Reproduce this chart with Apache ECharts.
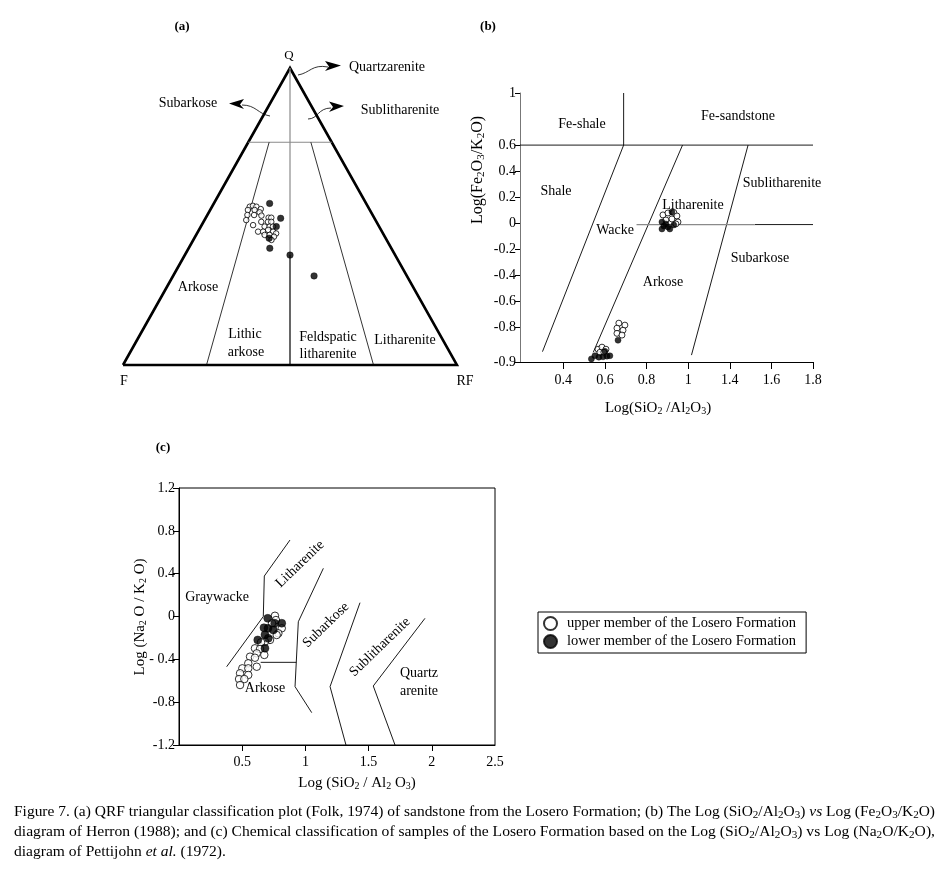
<!DOCTYPE html>
<html><head><meta charset="utf-8">
<script src="https://cdn.jsdelivr.net/npm/echarts@6/dist/echarts.min.js"></script>
<style>html,body{margin:0;padding:0;background:#fff}#c{width:946px;height:872px}</style>
</head><body><div id="c"></div>
<script>
const FONT = 'Liberation Serif';
const LEG_UP = 'upper member of the Losero Formation';
const LEG_LO = 'lower member of the Losero Formation';

// ---------- (a) QRF ternary, points as [Q, F, RF] (%) ----------
const aUpper = [
  [53.3,35.4,11.3],[53.6,34.3,12.1],[53.3,33.4,13.3],[52.5,32.5,15.0],[52.2,36.5,11.3],
  [52.2,34.5,13.3],[51.4,33.4,15.2],[50.5,37.5,12.0],[50.5,35.5,14.0],[50.3,33.4,16.3],
  [49.6,31.6,18.8],[49.6,30.8,19.6],[48.8,38.7,12.5],[47.1,37.5,15.4],[48.2,34.5,17.3],
  [48.2,32.5,19.3],[48.2,31.5,20.3],[46.6,34.3,19.1],[46.6,32.8,20.6],[46.6,31.8,21.6],
  [44.9,37.1,18.0],[44.9,35.6,19.5],[45.5,33.8,20.7],[44.9,32.6,22.5],[44.3,32.0,23.7],
  [43.8,35.7,20.5],[43.8,34.2,22.0],[43.2,33.2,23.6],[42.1,34.5,23.4]
];
const aLower = [
  [54.4,28.9,16.7],[49.4,28.1,22.5],[46.6,30.8,22.6],[42.7,34.9,22.4],
  [39.3,36.4,24.3],[37.0,31.5,31.5],[30.0,27.8,42.2]
];
// Folk (1974) field boundaries, [Q, F, RF]
const aFrame = [[0,100,0],[0,0,100],[100,0,0],[0,100,0]];
const aQ75 = [[75,25,0],[75,0,25]];
const aF3R1 = [[75,18.75,6.25],[0,75,25]];
const aF1R3 = [[75,6.25,18.75],[0,25,75]];
const aMidUpper = [[100,0,0],[37,31.5,31.5]];
const aMidLower = [[37,31.5,31.5],[0,50,50]];

// ---------- (b) Herron (1988): [log(SiO2/Al2O3), log(Fe2O3/K2O)] ----------
const bXTicks = [0.4,0.6,0.8,1,1.4,1.6,1.8];
const bYTicks = [-0.9,-0.8,-0.6,-0.4,-0.2,0,0.2,0.4,0.6,1];
const bUpper = [
  [0.879,0.064],[0.903,0.079],[0.931,0.083],[0.946,0.056],[0.922,0.033],[0.951,0.010],
  [0.893,0.025],[0.941,-0.005],
  [0.667,-0.767],[0.696,-0.782],[0.658,-0.802],[0.687,-0.808],[0.658,-0.817],[0.682,-0.822],
  [0.567,-0.863],[0.586,-0.857],[0.605,-0.863],[0.576,-0.872],[0.595,-0.872]
];
const bLower = [
  [0.922,0.087],[0.874,0.010],[0.883,-0.021],[0.903,-0.028],[0.874,-0.044],[0.912,-0.044],
  [0.931,-0.013],[0.893,-0.005],
  [0.663,-0.837],
  [0.535,-0.891],[0.552,-0.882],[0.571,-0.886],[0.591,-0.885],[0.610,-0.883],[0.624,-0.882],[0.600,-0.869]
];
const bBlackBounds = [
  [[0.69,1],[0.69,0.6]],
  [[0.192,0.6],[1.8,0.6]],
  [[0.69,0.6],[0.30,-0.87]],
  [[0.973,0.6],[0.544,-0.872]],
  [[1.488,0.6],[1.032,-0.88]],
  [[1.52,-0.01],[1.8,-0.01]]
];
const bGreyBounds = [
  [[0.752,-0.01],[1.52,-0.01]]
];

// ---------- (c) Pettijohn et al. (1972): [log(SiO2/Al2O3), log(Na2O/K2O)] ----------
const cXTicks = [0.5,1,1.5,2];
const cXLabels = [0.5,1,1.5,2,2.5];
const cYTicks = [1.2,0.8,0.4,0,-0.4,-0.8,-1.2];
const cYLabels = ['1.2','0.8','0.4','0','- 0.4','-0.8','-1.2'];
const cUpper = [
  [0.759,0.007],[0.767,-0.033],[0.736,-0.063],[0.813,-0.110],[0.786,-0.157],[0.773,-0.173],
  [0.720,-0.219],[0.680,-0.235],[0.649,-0.241],[0.601,-0.297],[0.641,-0.303],[0.615,-0.344],
  [0.675,-0.359],[0.562,-0.375],[0.601,-0.385],[0.548,-0.437],[0.615,-0.469],[0.501,-0.484],
  [0.548,-0.484],[0.483,-0.530],[0.548,-0.546],[0.475,-0.584],[0.517,-0.584],[0.483,-0.640]
];
const cLower = [
  [0.702,-0.017],[0.672,-0.105],[0.704,-0.110],[0.757,-0.063],[0.813,-0.063],[0.746,-0.126],
  [0.680,-0.170],[0.623,-0.219],[0.706,-0.204],[0.680,-0.297]
];
const cBounds = [
  [[0.878,0.714],[0.675,0.378],[0.667,0],[0.377,-0.469]],
  [[0.646,-0.428],[0.928,-0.428]],
  [[1.142,0.45],[0.944,-0.049],[0.918,-0.655],[1.05,-0.898]],
  [[1.432,0.129],[1.195,-0.655],[1.321,-1.2]],
  [[1.946,-0.017],[1.537,-0.649],[1.709,-1.2]]
];

// ---------- scales ----------
function tern(p){ const s=p[0]+p[1]+p[2]; return [(p[2]+p[0]/2)/s*100, p[0]/s*100]; }
// panel (b) axes are drawn with evenly spaced (irregular) tick labels: map labelled value -> axis position
function bx(v){
  const t=bXTicks;
  if(v<=t[0]) return (v-t[0])/(t[1]-t[0]);
  for(let i=0;i<t.length-1;i++){ if(v<=t[i+1]) return i+(v-t[i])/(t[i+1]-t[i]); }
  return t.length-1+(v-t[t.length-1])/(t[t.length-1]-t[t.length-2]);
}
const bYLowStretch = 2.65; // the -0.8 .. -0.9 interval is drawn wider
function by(v){ return v>=-0.8 ? v : -0.8+(v+0.8)*bYLowStretch; }
function near(a,b){ return Math.abs(a-b)<1e-6; }

const axisLabelStyle = {color:'#000', fontFamily:FONT, fontSize:14};

function lineS(data, xi, color, width){
  return {type:'line', xAxisIndex:xi, yAxisIndex:xi, data, symbol:'none', silent:true,
    lineStyle:{color, width, join:'miter'}, z:2, clip:false};
}
function scatS(name, data, xi, open, size){
  return {type:'scatter', name, xAxisIndex:xi, yAxisIndex:xi, data, symbol:'circle', symbolSize:size,
    itemStyle: open ? {color:'#fff', borderColor:'#000', borderWidth:1} : {color:'#000', borderColor:'#000', borderWidth:0.5},
    z:5, clip:false};
}

const series = [];
// (a)
series.push(lineS(aFrame.map(tern),0,'#000',2.6));
series.push(lineS(aQ75.map(tern),0,'#8a8a8a',1.2));
series.push(lineS(aF3R1.map(tern),0,'#000',0.8));
series.push(lineS(aF1R3.map(tern),0,'#000',0.8));
series.push(lineS(aMidUpper.map(tern),0,'#8a8a8a',1.2));
series.push(lineS(aMidLower.map(tern),0,'#000',1.2));
series.push(scatS(LEG_UP, aUpper.map(tern),0,true,5.5));
series.push(scatS(LEG_LO, aLower.map(tern),0,false,6.5));
// (b)
bBlackBounds.forEach(l=>series.push(lineS(l.map(p=>[bx(p[0]),by(p[1])]),1,'#000',0.9)));
bGreyBounds.forEach(l=>series.push(lineS(l.map(p=>[bx(p[0]),by(p[1])]),1,'#8a8a8a',1.2)));
series.push(scatS(LEG_UP, bUpper.map(p=>[bx(p[0]),by(p[1])]),1,true,6));
series.push(scatS(LEG_LO, bLower.map(p=>[bx(p[0]),by(p[1])]),1,false,6));
// (c)
cBounds.forEach(l=>series.push(lineS(l,2,'#000',0.9)));
series.push(scatS(LEG_UP, cUpper,2,true,7.5));
series.push(scatS(LEG_LO, cLower,2,false,8));

// ---------- text ----------
function mkRich(fs){
  const sub = Math.round(fs*0.68);
  return {
    s:{fontFamily:FONT, fontSize:sub, verticalAlign:'bottom', lineHeight:Math.round(fs*0.36)},
    i:{fontFamily:FONT, fontSize:fs, fontStyle:'italic'}
  };
}
function T(text,x,y,o){
  o=o||{};
  const fs=o.fs||14;
  return {type:'text', x, y, rotation:o.rot||0, scaleX:o.sx||1, silent:true, z:10,
    style:{text, fill:'#000', fontFamily:FONT, fontSize:fs, fontWeight:o.fw||'normal',
      align:o.align||'center', verticalAlign:'middle', textAlign:o.align||'center', textVerticalAlign:'middle',
      lineHeight:fs+2, rich:mkRich(fs)}};
}
const D = Math.PI/180;
const texts = [
  // (a)
  T('(a)',182,27,{fw:'bold',fs:13}), T('Q',289,56,{fs:13}),
  T('Quartzarenite',387,67), T('Subarkose',188,103), T('Sublitharenite',400,110),
  T('Arkose',198,287), T('Lithic',245,334), T('arkose',246,352),
  T('Feldspatic',328,337), T('litharenite',328,354), T('Litharenite',405,340),
  T('F',124,381), T('RF',465,381),
  // (b)
  T('(b)',488,27,{fw:'bold',fs:13}),
  T('Fe-shale',582,124), T('Fe-sandstone',738,116), T('Shale',556,191), T('Wacke',615,230),
  T('Litharenite',693,205), T('Sublitharenite',782,183), T('Arkose',663,282), T('Subarkose',760,258),
  T('Log(SiO{s|2} /Al{s|2}O{s|3})',658,408,{fs:15}),
  T('Log(Fe{s|2}O{s|3}/K{s|2}O)',478,170,{rot:90*D,fs:16}),
  // (c)
  T('(c)',163,448,{fw:'bold',fs:13}),
  T('Graywacke',217,597), T('Litharenite',300,564,{rot:44*D}), T('Subarkose',326,625,{rot:44*D}),
  T('Sublitharenite',380,647,{rot:44*D}), T('Quartz',419,673), T('arenite',419,691), T('Arkose',265,688),
  T('Log (SiO{s|2} / Al{s|2} O{s|3})',357,783,{fs:15}),
  T('Log (Na{s|2} O / K{s|2} O)',140,617,{rot:90*D,fs:15})
];

// caption (stretched to the justified width of the original)
const capLines = [
  'Figure 7. (a) QRF triangular classification plot (Folk, 1974) of sandstone from the Losero Formation; (b) The Log (SiO{s|2}/Al{s|2}O{s|3}) {i|vs} Log (Fe{s|2}O{s|3}/K{s|2}O)',
  'diagram of Herron (1988); and (c) Chemical classification of samples of the Losero Formation based on the Log (SiO{s|2}/Al{s|2}O{s|3}) vs Log (Na{s|2}O/K{s|2}O),',
  'diagram of Pettijohn {i|et al.} (1972).'
];
const CAP_FS = 14;
function richWidth(str){
  const c=document.createElement('canvas').getContext('2d');
  const meas=(t,sz,it)=>{c.font=(it?'italic ':'')+sz+'px "'+FONT+'"'; return c.measureText(t).width;};
  const sub=Math.round(CAP_FS*0.68);
  let w=0,last=0,m; const re=/\{(\w)\|([^}]*)\}/g;
  while((m=re.exec(str))){ w+=meas(str.slice(last,m.index),CAP_FS); w+= m[1]==='s'?meas(m[2],sub):meas(m[2],CAP_FS,true); last=re.lastIndex; }
  w+=meas(str.slice(last),CAP_FS); return w;
}
const capTarget = 921;
const sx1 = capTarget/richWidth(capLines[0]), sx2 = capTarget/richWidth(capLines[1]);
const sx3 = (sx1+sx2)/2;
texts.push(T(capLines[0],14,812,{align:'left',fs:CAP_FS,sx:sx1}));
texts.push(T(capLines[1],14,832,{align:'left',fs:CAP_FS,sx:sx2}));
texts.push(T(capLines[2],14,852,{align:'left',fs:CAP_FS,sx:sx3}));

// curved arrows in (a)
const arrowStroke = {stroke:'#000', lineWidth:0.8, fill:null};
const shapes = [
  {type:'bezierCurve', shape:{x1:298,y1:75,cpx1:310,cpy1:73,cpx2:312,cpy2:64,x2:328,y2:67}, style:arrowStroke, silent:true},
  {type:'polygon', shape:{points:[[341,65.5],[325,61],[329,66.5],[325,71]]}, style:{fill:'#000'}, silent:true},
  {type:'bezierCurve', shape:{x1:308,y1:119,cpx1:318,cpy1:119,cpx2:318,cpy2:108,x2:331,y2:108}, style:arrowStroke, silent:true},
  {type:'polygon', shape:{points:[[344,106],[329,101.5],[333,107],[329,112]]}, style:{fill:'#000'}, silent:true},
  {type:'bezierCurve', shape:{x1:270,y1:116,cpx1:258,cpy1:114,cpx2:256,cpy2:105,x2:242,y2:105}, style:arrowStroke, silent:true},
  {type:'polygon', shape:{points:[[229,103.5],[244,99],[240,104.5],[244,109]]}, style:{fill:'#000'}, silent:true}
];

const option = {
  animation:false,
  backgroundColor:'#fff',
  textStyle:{fontFamily:FONT},
  legend:{
    orient:'vertical', left:538, top:612, padding:[4,10,4,5], itemGap:3,
    itemWidth:13, itemHeight:13, icon:'circle',
    borderColor:'#000', borderWidth:1, selectedMode:false,
    textStyle:{fontFamily:FONT, fontSize:14.5, color:'#000', padding:[0,0,0,5]},
    data:[LEG_UP, LEG_LO]
  },
  grid:[
    {left:123, top:68, width:334, height:297},
    {left:520, top:93, width:293, height:269},
    {left:179, top:488, width:316, height:257, show:true, borderColor:'#000', borderWidth:1, backgroundColor:'transparent'}
  ],
  xAxis:[
    {gridIndex:0, type:'value', min:0, max:100, show:false},
    {gridIndex:1, type:'value', min:bx(0.192), max:bx(1.8),
      axisLine:{onZero:false, lineStyle:{color:'#000', width:1}},
      axisTick:{show:true, customValues:bXTicks.map(bx), length:7, lineStyle:{color:'#000'}},
      axisLabel:{...axisLabelStyle, margin:11, customValues:bXTicks.map(bx),
        formatter:v=>{const i=bXTicks.findIndex(t=>near(bx(t),v)); return i<0?'':String(bXTicks[i]);}},
      splitLine:{show:false}},
    {gridIndex:2, type:'value', min:0, max:2.5,
      axisLine:{onZero:false, lineStyle:{color:'#000', width:1}},
      axisTick:{show:true, customValues:cXTicks, length:6, lineStyle:{color:'#000'}},
      axisLabel:{...axisLabelStyle, margin:10, customValues:cXLabels, formatter:v=>String(v)},
      splitLine:{show:false}}
  ],
  yAxis:[
    {gridIndex:0, type:'value', min:0, max:100, show:false},
    {gridIndex:1, type:'value', min:by(-0.9), max:by(1),
      axisLine:{show:true, onZero:false, lineStyle:{color:'#777', width:1}},
      axisTick:{show:true, customValues:bYTicks.map(by), length:5, lineStyle:{color:'#000'}},
      axisLabel:{...axisLabelStyle, margin:4, customValues:bYTicks.map(by),
        formatter:v=>{const i=bYTicks.findIndex(t=>near(by(t),v)); return i<0?'':String(bYTicks[i]);}},
      splitLine:{show:false}},
    {gridIndex:2, type:'value', min:-1.2, max:1.2,
      axisLine:{show:true, onZero:false, lineStyle:{color:'#000', width:1}},
      axisTick:{show:true, customValues:cYTicks, length:6, lineStyle:{color:'#000'}},
      axisLabel:{...axisLabelStyle, margin:4, customValues:cYTicks,
        formatter:v=>{const i=cYTicks.findIndex(t=>near(t,v)); return i<0?'':cYLabels[i];}},
      splitLine:{show:false}}
  ],
  series,
  graphic:{elements: texts.concat(shapes)}
};
const chart = echarts.init(document.getElementById('c'));
chart.setOption(option);
</script>
</body></html>
